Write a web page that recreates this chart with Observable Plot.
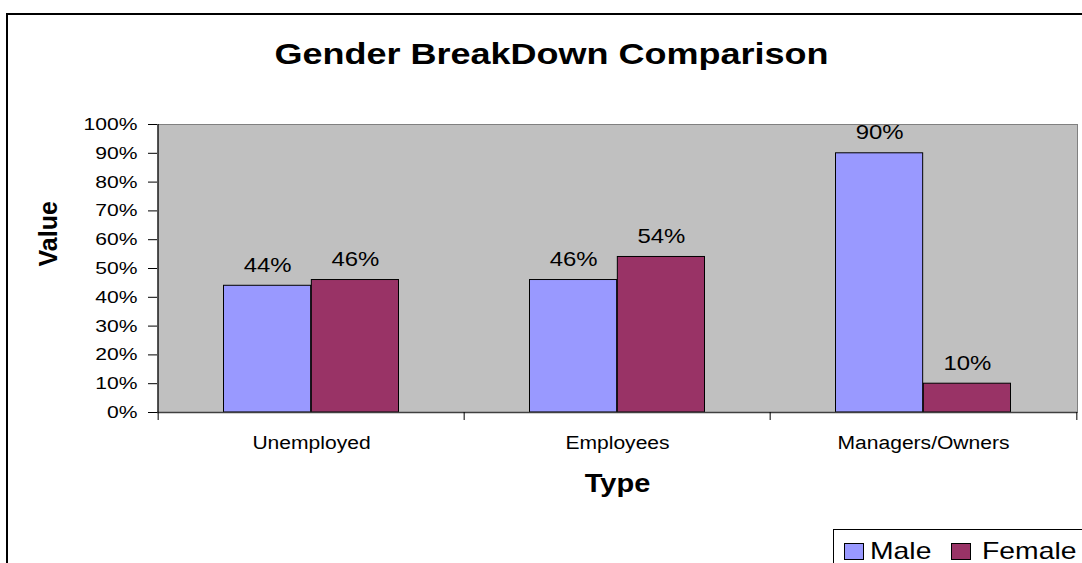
<!DOCTYPE html>
<html>
<head>
<meta charset="utf-8">
<script src="https://cdn.jsdelivr.net/npm/d3@7"></script>
<script src="https://cdn.jsdelivr.net/npm/@observablehq/plot@0.6"></script>
<style>
  html, body { margin: 0; padding: 0; background: #fff; }
  body { width: 1082px; height: 563px; overflow: hidden; position: relative; font-family: "Liberation Sans", Arial, sans-serif; }
  #border { position: absolute; left: 6px; top: 13px; width: 1200px; height: 700px; border: 2px solid #000; box-sizing: border-box; }
  #chart { position: absolute; left: 0; top: 0; }
  #legend { position: absolute; left: 833px; top: 529px; width: 400px; height: 100px; border: 1px solid #000; background: #fff; }
  .sw { position: absolute; top: 13px; width: 18px; height: 15px; border: 1px solid #000; }
  .lt { position: absolute; top: 8.7px; font-size: 24px; line-height: 24px; color: #000; white-space: nowrap; transform: scaleX(1.18); transform-origin: left center; }
</style>
</head>
<body>
<div id="border"></div>
<div id="chart"></div>
<div id="legend"></div>
<script>
// ---- data ----
const title = "Gender BreakDown Comparison";
const xTitle = "Type";
const yTitle = "Value";
const categories = ["Unemployed", "Employees", "Managers/Owners"];
const series = ["Male", "Female"];
const maleValues = [0.44, 0.46, 0.90];
const femaleValues = [0.46, 0.54, 0.10];
const seriesValues = [maleValues, femaleValues];
const colors = ["#9999FF", "#993366"];
const yTicks = [0, 0.1, 0.2, 0.3, 0.4, 0.5, 0.6, 0.7, 0.8, 0.9, 1.0];

// ---- layout ----
const W = 1082, H = 563;
const mL = 157, mR = 5, mT = 124, mB = 151;
const plotW = W - mL - mR;
const bw = plotW / categories.length;
const gap = 65.5;
const barW = (bw - 2 * gap) / series.length;
const pct = d => Math.round(d * 100) + "%";

const seriesData = series.map((s, i) =>
  categories.map((c, j) => ({type: c, gender: s, value: seriesValues[i][j]})));

const marks = [Plot.frame({fill: "#C0C0C0", stroke: "#808080"})];
seriesData.forEach((data, i) => {
  marks.push(Plot.barY(data, {
    x: "type", y: "value", fill: "gender", stroke: "#000", strokeWidth: 1,
    insetLeft: gap + i * barW, insetRight: bw - gap - (i + 1) * barW
  }));
});
seriesData.forEach((data, i) => {
  marks.push(Plot.text(data, {
    x: "type", y: "value", text: d => pct(d.value),
    dx: gap + (i + 0.5) * barW - bw / 2, dy: -14, lineAnchor: "bottom",
    fontSize: 21, fill: "#000"
  }));
});
marks.push(
  Plot.ruleY([0], {stroke: "#404040", strokeWidth: 1.5}),
  Plot.ruleX([categories[0]], {x: d => d, dx: -bw / 2, insetBottom: -8, stroke: "#000"}),
  Plot.ruleX(categories.slice(1), {x: d => d, dx: -bw / 2, insetTop: 288, insetBottom: -8, stroke: "#000"}),
  Plot.ruleX([categories[categories.length - 1]], {x: d => d, dx: bw / 2, insetTop: 288, insetBottom: -8, stroke: "#000"}),
  Plot.text(categories, {x: d => d, text: d => d, frameAnchor: "bottom", dy: 36.3, lineAnchor: "bottom", fontSize: 18, fill: "#000"}),
  Plot.text([xTitle], {text: d => d, frameAnchor: "bottom", dy: 79.7, lineAnchor: "bottom", fontSize: 25, fontWeight: "bold", fill: "#000"}),
  Plot.text([yTitle], {text: d => d, frameAnchor: "left", dx: -100.3, dy: -2, rotate: -90, lineAnchor: "bottom", fontSize: 25, fontWeight: "bold", fill: "#000"}),
  Plot.text([title], {text: d => d, frameAnchor: "top", dx: -66, dy: -60.7, lineAnchor: "bottom", fontSize: 30, fontWeight: "bold", fill: "#000"})
);

const chart = Plot.plot({
  width: W, height: H,
  marginLeft: mL, marginRight: mR, marginTop: mT, marginBottom: mB,
  style: {background: "transparent", fontFamily: "'Liberation Sans', Arial, sans-serif", fontSize: "17px", color: "#000", overflow: "visible"},
  x: {domain: categories, padding: 0, axis: null},
  y: {domain: [0, 1], ticks: yTicks, tickFormat: pct, tickSize: 9, tickPadding: 11, label: null},
  color: {domain: series, range: colors},
  marks
});
document.getElementById("chart").appendChild(chart);

// Widen horizontal text like the reference rendering (factor by font size)
const stretch = {17: 1.24, 18: 1.17, 21: 1.14, 25: 1.16, 30: 1.2};
chart.querySelectorAll("text").forEach(t => {
  const tr = (t.getAttribute("transform") || "") + (t.parentNode.getAttribute("transform") || "");
  if (/rotate/.test(tr)) return;
  const fs = Math.round(parseFloat(getComputedStyle(t).fontSize));
  const S = stretch[fs] || 1.18;
  const L = t.getComputedTextLength();
  if (L > 0) {
    t.setAttribute("textLength", (L * S).toFixed(2));
    t.setAttribute("lengthAdjust", "spacingAndGlyphs");
  }
});

// ---- legend ----
const legend = document.getElementById("legend");
const swLeft = [10, 117], txtLeft = [36, 147.7];
series.forEach((s, i) => {
  const sw = document.createElement("div");
  sw.className = "sw";
  sw.style.left = swLeft[i] + "px";
  sw.style.background = colors[i];
  legend.appendChild(sw);
  const tx = document.createElement("div");
  tx.className = "lt";
  tx.style.left = txtLeft[i] + "px";
  tx.textContent = s;
  legend.appendChild(tx);
});
</script>
</body>
</html>
